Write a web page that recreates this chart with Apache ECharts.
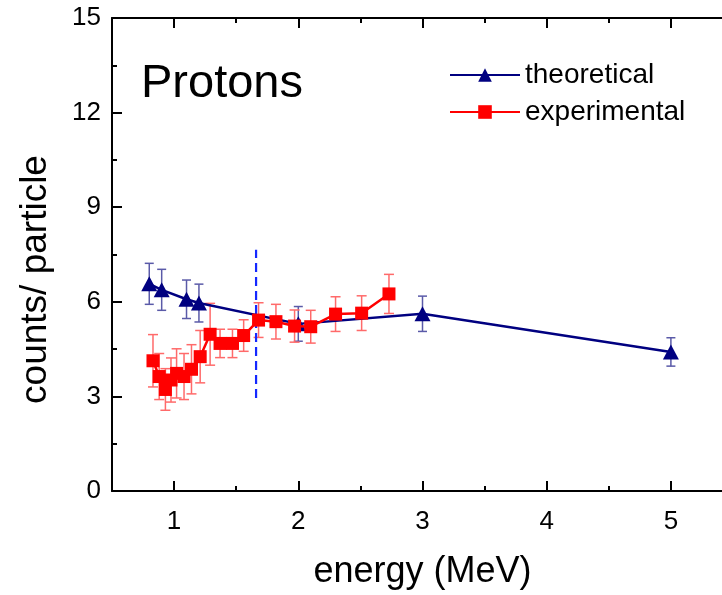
<!DOCTYPE html>
<html>
<head>
<meta charset="utf-8">
<script src="https://cdn.jsdelivr.net/npm/echarts@6/dist/echarts.min.js"></script>
<style>
html,body{margin:0;padding:0;background:#fff;}
#chart{width:722px;height:595px;}
</style>
</head>
<body>
<div id="chart"></div>
<script>
// ---- data ----
const theoX = [0.8, 0.9, 1.1, 1.2, 2.0, 3.0, 5.0];
const theoY = [6.57, 6.38, 6.08, 5.96, 5.30, 5.62, 4.41];
const theoErr = [0.65, 0.65, 0.61, 0.60, 0.55, 0.56, 0.45];

const expX = [0.83, 0.88, 0.93, 0.975, 1.02, 1.08, 1.14, 1.21, 1.29, 1.37, 1.47, 1.56, 1.68, 1.82, 1.97, 2.10, 2.30, 2.51, 2.73];
const expY = [4.13, 3.63, 3.22, 3.52, 3.73, 3.63, 3.86, 4.26, 4.97, 4.68, 4.68, 4.93, 5.42, 5.37, 5.23, 5.21, 5.61, 5.64, 6.25];
const expErr = [0.83, 0.73, 0.66, 0.70, 0.78, 0.73, 0.78, 0.83, 0.98, 0.45, 0.45, 0.50, 0.55, 0.55, 0.51, 0.52, 0.55, 0.55, 0.62];

const cutX = [1.66, 1.66];
const cutY = [2.95, 7.65];

const xMajorTicks = [1, 2, 3, 4, 5];
const xMinorTicks = [1.5, 2.5, 3.5, 4.5, 5.5];
const xRange = [0.5, 5.5];
const yRange = [0, 15];
const yStep = 3;

// ---- build ----
const FONT = "'Liberation Sans', Arial, Helvetica, sans-serif";
const pairs = (xs, ys) => xs.map((x, i) => [x, ys[i]]);
const errData = (xs, ys, es) => xs.map((x, i) => [x, ys[i] - es[i], ys[i] + es[i]]);

function errRender(color, capW) {
  return function (params, api) {
    const x = api.value(0), lo = api.value(1), hi = api.value(2);
    const a = api.coord([x, lo]), b = api.coord([x, hi]);
    const style = { stroke: color, lineWidth: 1.5, fill: null };
    return {
      type: 'group',
      children: [
        { type: 'line', shape: { x1: a[0], y1: a[1], x2: b[0], y2: b[1] }, style },
        { type: 'line', shape: { x1: a[0] - capW, y1: a[1], x2: a[0] + capW, y2: a[1] }, style },
        { type: 'line', shape: { x1: b[0] - capW, y1: b[1], x2: b[0] + capW, y2: b[1] }, style }
      ]
    };
  };
}

const axisLineStyle = { color: '#000', width: 2 };
const tickStyle = { color: '#000', width: 2 };

function xAx(pos, custom, len, showLine, showLabel) {
  return {
    type: 'value', position: pos, min: xRange[0], max: xRange[1], gridIndex: 0,
    axisLine: { show: showLine, onZero: false, lineStyle: axisLineStyle },
    axisTick: { show: true, inside: true, length: len, customValues: custom, lineStyle: tickStyle },
    axisLabel: showLabel ? { show: true, customValues: custom, margin: 18, fontSize: 26, color: '#000', fontFamily: FONT } : { show: false },
    splitLine: { show: false }
  };
}

const xAxes = [
  xAx('bottom', xMajorTicks, 10, true, true),
  xAx('bottom', xMinorTicks, 5, false, false),
  xAx('top', xMajorTicks, 10, true, false),
  xAx('top', xMinorTicks, 5, false, false)
];
xAxes[0].name = 'energy (MeV)';
xAxes[0].nameLocation = 'middle';
xAxes[0].nameGap = 63;
xAxes[0].nameTextStyle = { fontSize: 36, color: '#000', fontFamily: FONT };

const option = {
  animation: false,
  backgroundColor: '#fff',
  title: {
    text: 'Protons', left: 136, top: 56,
    textStyle: { fontSize: 47, fontWeight: 'normal', color: '#000', fontFamily: FONT }
  },
  legend: {
    data: ['theoretical', 'experimental'],
    orient: 'vertical', left: 444, top: 56, itemGap: 9,
    itemWidth: 70, itemHeight: 17,
    textStyle: { fontSize: 28, color: '#000', fontFamily: FONT }
  },
  grid: { left: 112, right: -11, top: 18, bottom: 104, containLabel: false, outerBoundsMode: 'none' },
  xAxis: xAxes,
  yAxis: {
    type: 'value', min: yRange[0], max: yRange[1], interval: yStep,
    name: 'counts/ particle', nameLocation: 'middle', nameGap: 58,
    nameTextStyle: { fontSize: 37, color: '#000', fontFamily: FONT, padding: [0, 50, 0, 0] },
    axisLine: { show: true, lineStyle: axisLineStyle },
    axisTick: { show: true, inside: true, length: 10, lineStyle: tickStyle },
    minorTick: { show: true, splitNumber: 2, length: 5, lineStyle: tickStyle },
    axisLabel: { margin: 11, fontSize: 26, color: '#000', fontFamily: FONT },
    splitLine: { show: false }
  },
  series: [
    {
      name: 'theoErr', type: 'custom', xAxisIndex: 0, z: 1,
      renderItem: errRender('#5a5aa8', 4.5),
      encode: { x: 0, y: [1, 2] },
      data: errData(theoX, theoY, theoErr)
    },
    {
      name: 'expErr', type: 'custom', xAxisIndex: 0, z: 1,
      renderItem: errRender('#ff6a6a', 5),
      encode: { x: 0, y: [1, 2] },
      data: errData(expX, expY, expErr)
    },
    {
      name: 'cut', type: 'line', xAxisIndex: 0, z: 1,
      data: pairs(cutX, cutY), symbol: 'none',
      lineStyle: { color: '#1428ff', width: 2.2, type: [9, 5] }
    },
    {
      name: 'theoretical', type: 'line', xAxisIndex: 0, z: 3,
      data: pairs(theoX, theoY),
      symbol: 'triangle', symbolSize: [16, 15],
      itemStyle: { color: '#000080' },
      lineStyle: { color: '#000080', width: 2.5 }
    },
    {
      name: 'experimental', type: 'line', xAxisIndex: 0, z: 4,
      data: pairs(expX, expY),
      symbol: 'rect', symbolSize: 13,
      itemStyle: { color: '#ff0000' },
      lineStyle: { color: '#ff0000', width: 2.5 }
    }
  ]
};

const chart = echarts.init(document.getElementById('chart'), null, { renderer: 'canvas' });
chart.setOption(option);
</script>
</body>
</html>
